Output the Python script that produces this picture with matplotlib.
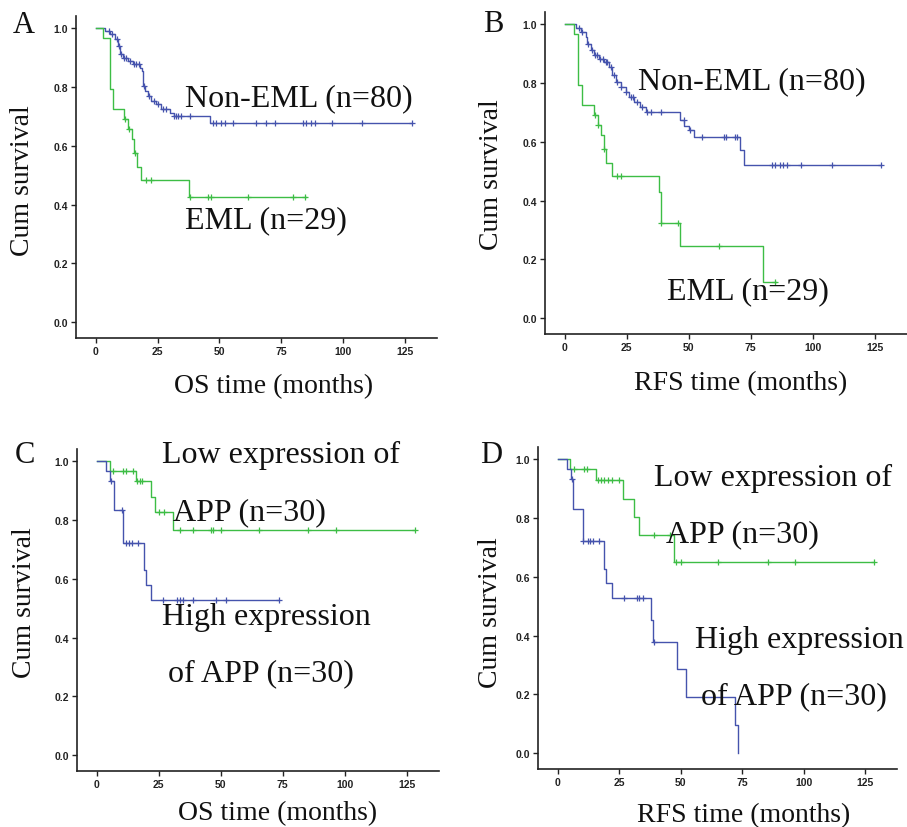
import numpy as np
import matplotlib
matplotlib.use("Agg")
import matplotlib.pyplot as plt

# ---- data (months, cumulative survival) ----
# A: OS, EML vs non-EML
a_non_t = [3.6, 5.7, 7.7, 9.0, 9.7, 11.1, 13.1, 15.1, 17.8, 18.5, 19.2, 19.8, 21.2,
           22.5, 24.5, 26.5, 29.9, 31.5, 46.1]
a_non_s = [0.990, 0.979, 0.961, 0.939, 0.910, 0.899, 0.888, 0.876, 0.865, 0.854, 0.803,
           0.786, 0.769, 0.752, 0.740, 0.723, 0.712, 0.700, 0.678]
a_non_c = [5.3, 6.6, 8.7, 9.4, 10.4, 11.4, 12.4, 13.7, 15.3, 16.2, 17.5, 19.4, 21.4,
           23.5, 25.2, 27.2, 28.6, 31.8, 32.4, 33.3, 34.6, 38.3, 47.5, 48.8, 50.8, 52.2,
           55.5, 64.9, 69.0, 72.4, 83.8, 85.2, 87.2, 88.6, 95.7, 107.5, 127.7]
a_non_end = 127.7
a_eml_t = [3.0, 5.8, 6.8, 11.3, 12.9, 14.7, 15.4, 16.6, 18.4, 37.8]
a_eml_s = [0.966, 0.793, 0.724, 0.690, 0.655, 0.621, 0.575, 0.529, 0.483, 0.425]
a_eml_c = [12.0, 13.3, 15.7, 20.5, 22.5, 38.0, 45.5, 46.4, 61.6, 79.8, 84.6]
a_eml_end = 85.0

# B: RFS, EML vs non-EML
b_non_t = [4.4, 6.4, 8.4, 9.1, 10.4, 11.8, 13.8, 15.8, 17.8, 19.2, 20.5, 22.5, 24.5,
           25.9, 27.9, 30.5, 32.6, 46.6, 48.2, 50.0, 52.0, 70.7, 72.3]
b_non_s = [0.984, 0.973, 0.956, 0.933, 0.911, 0.894, 0.882, 0.871, 0.855, 0.826, 0.803,
           0.787, 0.769, 0.753, 0.735, 0.719, 0.702, 0.674, 0.652, 0.638, 0.616, 0.571,
           0.522]
b_non_c = [5.8, 7.1, 9.3, 11.1, 12.0, 13.1, 14.2, 15.5, 16.5, 17.2, 18.5, 19.8, 21.2,
           22.7, 24.7, 26.5, 27.6, 29.2, 31.2, 33.2, 34.6, 38.9, 47.9, 50.4, 55.3, 64.0,
           65.1, 68.7, 69.4, 83.5, 84.8, 86.8, 88.1, 89.5, 95.3, 107.6, 127.6]
b_non_end = 127.6
b_eml_t = [3.7, 5.3, 7.0, 11.8, 13.3, 14.7, 15.6, 16.5, 18.9, 37.9, 38.6, 46.6, 79.8]
b_eml_s = [0.966, 0.793, 0.724, 0.690, 0.655, 0.621, 0.575, 0.529, 0.483, 0.430, 0.325,
           0.246, 0.123]
b_eml_c = [12.0, 13.5, 15.8, 20.9, 22.5, 38.8, 45.5, 62.0, 84.8]
b_eml_end = 85.0

# C: OS, low vs high APP expression
c_low_t = [5.5, 15.8, 21.7, 23.5, 30.6]
c_low_s = [0.967, 0.933, 0.877, 0.827, 0.766]
c_low_c = [6.5, 10.6, 11.7, 14.6, 16.3, 17.3, 18.4, 25.0, 27.0, 33.5, 38.7, 45.9, 47.0,
           50.0, 65.3, 85.1, 96.3, 128.3]
c_low_end = 128.3
c_high_t = [3.6, 5.5, 6.9, 10.7, 19.0, 19.8, 21.7]
c_high_s = [0.967, 0.933, 0.833, 0.722, 0.628, 0.578, 0.528]
c_high_c = [5.9, 10.0, 11.7, 13.0, 14.0, 16.7, 26.8, 32.2, 33.6, 34.6, 38.7, 48.2, 52.2,
            73.4]
c_high_end = 73.4

# D: RFS, low vs high APP expression
d_low_t = [4.9, 15.6, 26.7, 30.9, 32.9, 47.5]
d_low_s = [0.967, 0.929, 0.865, 0.803, 0.742, 0.649]
d_low_c = [6.5, 10.9, 11.9, 16.3, 17.7, 19.0, 20.3, 22.1, 24.8, 39.2, 45.5, 48.0, 50.0,
           65.2, 85.5, 96.6, 128.6]
d_low_end = 128.6
d_high_t = [3.8, 5.5, 6.4, 10.2, 19.0, 19.7, 22.0, 37.9, 38.6, 48.4, 52.3, 72.0, 73.3]
d_high_s = [0.967, 0.933, 0.829, 0.721, 0.625, 0.577, 0.527, 0.452, 0.377, 0.285, 0.190,
            0.095, 0.0]
d_high_c = [6.0, 10.4, 12.3, 13.2, 14.3, 17.0, 27.1, 32.1, 33.2, 34.8, 39.0]
d_high_end = 73.3

xticks = [0, 25, 50, 75, 100, 125]
yticks = [0.0, 0.2, 0.4, 0.6, 0.8, 1.0]

BLUE = '#4553ad'
GREEN = '#3dbd45'
SERIF = 'Liberation Serif'

W, H = 907, 828
fig = plt.figure(figsize=(W / 100, H / 100), dpi=100)


def px(x, y):
    return x / W, 1 - y / H


def km(ax, t, s, cens, end, color):
    times = np.r_[0, t, end]
    surv = np.r_[1.0, s, s[-1]]
    ax.step(times, surv, where='post', color=color, lw=1.0)
    levels = np.r_[1.0, s]
    idx = np.searchsorted(t, cens, side='right')
    ax.plot(cens, levels[idx], '+', color=color, ms=5, mew=0.9)


def panel(box, curves):
    l, t_, r, b = box
    ax = fig.add_axes([l / W, 1 - b / H, (r - l) / W, (b - t_) / H])
    for c in curves:
        km(ax, *c)
    ax.set_xlim(-8, 138)
    ax.set_ylim(-0.053, 1.04)
    ax.set_xticks(xticks)
    ax.set_yticks(yticks)
    ax.set_xticklabels([str(v) for v in xticks])
    ax.set_yticklabels(['%.1f' % v for v in yticks])
    for sp in ('top', 'right'):
        ax.spines[sp].set_visible(False)
    for sp in ('left', 'bottom'):
        ax.spines[sp].set_linewidth(1.2)
        ax.spines[sp].set_color('#222222')
    ax.tick_params(direction='out', length=3.5, width=1.0, colors='#222222',
                   labelsize=7.5, pad=2)
    for lab in ax.get_xticklabels() + ax.get_yticklabels():
        lab.set_fontweight('bold')
        lab.set_family('Liberation Sans')
    return ax


axA = panel((76, 17, 437, 339), [(a_non_t, a_non_s, a_non_c, a_non_end, BLUE),
                                  (a_eml_t, a_eml_s, a_eml_c, a_eml_end, GREEN)])
axB = panel((545, 13, 907, 335), [(b_non_t, b_non_s, b_non_c, b_non_end, BLUE),
                                   (b_eml_t, b_eml_s, b_eml_c, b_eml_end, GREEN)])
axC = panel((77, 450, 439, 772), [(c_low_t, c_low_s, c_low_c, c_low_end, GREEN),
                                   (c_high_t, c_high_s, c_high_c, c_high_end, BLUE)])
axD = panel((538, 448, 897, 770), [(d_low_t, d_low_s, d_low_c, d_low_end, GREEN),
                                    (d_high_t, d_high_s, d_high_c, d_high_end, BLUE)])

# curve labels
note = dict(family=SERIF, fontsize=23, ha='left', va='baseline', color='#111111')
axA.text(36, 0.738, 'Non-EML (n=80)', **note)
axA.text(36, 0.323, 'EML (n=29)', **note)
axB.text(29.7, 0.780, 'Non-EML (n=80)', **note)
axB.text(41.4, 0.068, 'EML (n=29)', **note)
axC.text(26.3, 0.996, 'Low expression of', clip_on=False, **note)
axC.text(30.8, 0.803, 'APP (n=30)', **note)
axC.text(26.3, 0.447, 'High expression', **note)
axC.text(28.9, 0.255, 'of APP (n=30)', **note)
axD.text(39.2, 0.912, 'Low expression of', **note)
axD.text(44.1, 0.719, 'APP (n=30)', **note)
axD.text(55.8, 0.362, 'High expression', clip_on=False, **note)
axD.text(58.3, 0.169, 'of APP (n=30)', **note)

# panel letters and axis titles
lab = dict(family=SERIF, fontsize=20, color='#111111')
for letter, (x, y) in zip('ABCD', [(13, 33), (483, 32), (15, 463), (480, 463)]):
    fig.text(*px(x, y), letter, family=SERIF, fontsize=22, ha='left', va='baseline',
             color='#111111')
for (x, y) in [(23, 181), (492, 175), (25, 603), (490, 613)]:
    fig.text(*px(x, y), 'Cum survival', rotation=90, ha='center', va='center', **lab)
for txt, (x, y) in [('OS time (months)', (274, 393)), ('RFS time (months)', (741, 390)),
                    ('OS time (months)', (278, 820)), ('RFS time (months)', (744, 822))]:
    fig.text(*px(x, y), txt, ha='center', va='baseline', **lab)

fig.savefig('out.png', dpi=100, facecolor='white')
